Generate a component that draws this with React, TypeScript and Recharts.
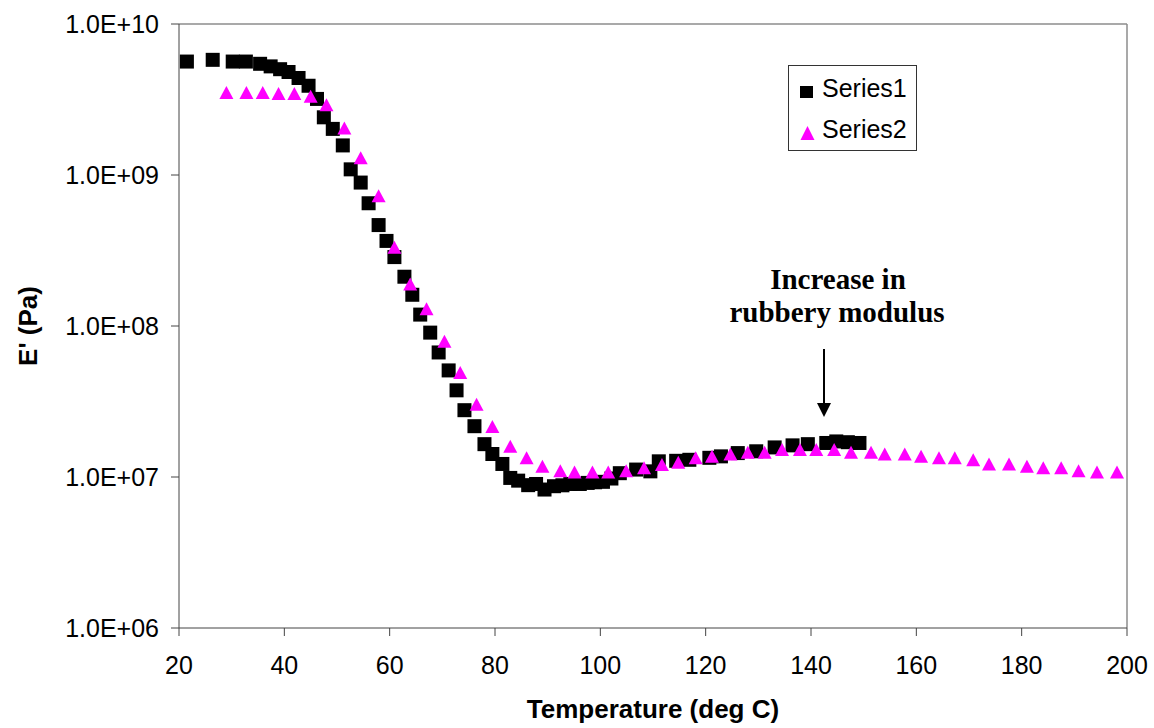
import React from 'react';
import { ScatterChart, Scatter, XAxis, YAxis, ReferenceLine, Legend } from 'recharts';

// Series1 (squares): temperature (deg C) and storage modulus E' (Pa)
const s1Temp = [
  21.5, 26.4, 30.2, 32.7, 35.4, 37.4, 39.2, 40.8, 42.7, 44.6, 46.2, 47.5, 49.2, 51.1,
  52.6, 54.5, 56.0, 57.9, 59.4, 60.9, 62.8, 64.3, 65.8, 67.7, 69.3, 71.2, 72.7, 74.2,
  76.1, 78.0, 79.5, 81.4, 82.9, 84.4, 86.3, 87.8, 89.4, 91.2, 92.8, 94.3, 96.1, 97.6,
  99.0, 100.5, 102.1, 103.7, 106.8, 109.5, 111.1, 114.4, 116.9, 120.7, 122.9, 126.1,
  129.6, 133.1, 136.5, 139.4, 142.9, 144.8, 147.0, 149.2,
];
const s1Mod = [
  5.64e9, 5.79e9, 5.64e9, 5.64e9, 5.45e9, 5.24e9, 5.02e9, 4.81e9, 4.39e9, 3.9e9, 3.19e9, 2.41e9, 2.02e9, 1.57e9,
  1.09e9, 8.91e8, 6.5e8, 4.66e8, 3.66e8, 2.86e8, 2.12e8, 1.61e8, 1.19e8, 9.04e7, 6.68e7, 5.08e7, 3.75e7, 2.77e7,
  2.17e7, 1.65e7, 1.42e7, 1.22e7, 9.86e6, 9.46e6, 8.83e6, 8.99e6, 8.26e6, 8.69e6, 8.81e6, 8.99e6, 8.99e6, 9.14e6,
  9.23e6, 9.29e6, 9.77e6, 1.06e7, 1.12e7, 1.09e7, 1.27e7, 1.28e7, 1.3e7, 1.34e7, 1.37e7, 1.44e7,
  1.48e7, 1.57e7, 1.62e7, 1.65e7, 1.68e7, 1.72e7, 1.7e7, 1.68e7,
];

// Series2 (triangles)
const s2Temp = [
  29.0, 32.8, 35.9, 38.9, 41.9, 45.0, 48.0, 51.4, 54.5, 57.9, 60.9, 63.9, 67.0, 70.4,
  73.4, 76.5, 79.5, 82.9, 86.0, 89.0, 92.4, 95.1, 98.5, 101.5, 104.9, 108.3, 111.7, 114.8,
  118.1, 121.2, 124.7, 128.0, 131.2, 134.5, 137.9, 141.0, 144.4, 147.6, 151.4, 154.0, 157.8,
  160.9, 164.3, 167.3, 170.8, 173.8, 177.6, 181.0, 184.1, 187.5, 190.8, 194.3, 198.1,
];
const s2Mod = [
  3.52e9, 3.52e9, 3.52e9, 3.46e9, 3.46e9, 3.32e9, 2.92e9, 2.05e9, 1.3e9, 7.28e8, 3.32e8, 1.9e8, 1.3e8, 7.93e7,
  4.93e7, 3.03e7, 2.16e7, 1.6e7, 1.34e7, 1.18e7, 1.1e7, 1.08e7, 1.08e7, 1.08e7, 1.1e7, 1.15e7, 1.21e7, 1.25e7,
  1.34e7, 1.37e7, 1.42e7, 1.46e7, 1.46e7, 1.52e7, 1.52e7, 1.52e7, 1.52e7, 1.46e7, 1.46e7, 1.42e7, 1.42e7,
  1.37e7, 1.34e7, 1.34e7, 1.3e7, 1.22e7, 1.22e7, 1.18e7, 1.15e7, 1.15e7, 1.1e7, 1.08e7, 1.08e7,
];

const xTicks = [20, 40, 60, 80, 100, 120, 140, 160, 180, 200];
const yTicks = [1e6, 1e7, 1e8, 1e9, 1e10];

const series1 = s1Temp.map((t, i) => ({ t, e: s1Mod[i] }));
const series2 = s2Temp.map((t, i) => ({ t, e: s2Mod[i] }));

const formatExp = (v: number) => {
  const p = Math.round(Math.log10(v));
  return `1.0E+${String(p).padStart(2, '0')}`;
};

const SquareMark = (props: any) => {
  const { cx, cy } = props;
  if (cx == null || cy == null) return null;
  return <rect x={cx - 7} y={cy - 7} width={14} height={14} fill="#000000" />;
};

const TriangleMark = (props: any) => {
  const { cx, cy } = props;
  if (cx == null || cy == null) return null;
  return <polygon points={`${cx - 7},${cy + 6.5} ${cx + 7},${cy + 6.5} ${cx},${cy - 6.5}`} fill="#FF00FF" />;
};

const LegendBox = () => (
  <div
    style={{
      width: 129,
      height: 86,
      boxSizing: 'border-box',
      border: '1px solid #333',
      background: '#fff',
      position: 'relative',
      fontSize: 25,
      color: '#000',
    }}
  >
    <svg width={129} height={86} style={{ position: 'absolute', left: 0, top: 0 }}>
      <rect x={11} y={20} width={13} height={12} fill="#000" />
      <text x={33} y={31} fontSize={25} fill="#000">Series1</text>
      <polygon points="11.5,74 25.5,74 18.5,60" fill="#FF00FF" />
      <text x={33} y={72} fontSize={25} fill="#000">Series2</text>
    </svg>
  </div>
);

const ModulusChart: React.FC = () => {
  return (
    <div
      style={{
        position: 'absolute',
        left: 0,
        top: 0,
        width: 1154,
        height: 728,
        background: '#fff',
        fontFamily: '"Liberation Sans", Arial, sans-serif',
      }}
    >
      <ScatterChart width={1154} height={728} margin={{ top: 24, right: 27, bottom: 10, left: 10 }}>
        <XAxis
          type="number"
          dataKey="t"
          domain={[20, 200]}
          ticks={xTicks}
          allowDataOverflow
          height={90}
          tickSize={8}
          tickMargin={20}
          stroke="#444"
          tick={{ fill: '#000', fontSize: 25 }}
          label={{
            value: 'Temperature (deg C)',
            position: 'insideBottom',
            offset: 0,
            style: { fontSize: 26, fontWeight: 'bold', fill: '#000' },
          }}
        />
        <YAxis
          type="number"
          dataKey="e"
          scale="log"
          domain={[1e6, 1e10]}
          ticks={yTicks}
          allowDataOverflow
          width={169}
          tickSize={8}
          tickMargin={12}
          stroke="#444"
          tickFormatter={formatExp}
          tick={{ fill: '#000', fontSize: 25 }}
          label={{
            value: "E' (Pa)",
            angle: -90,
            position: 'insideLeft',
            offset: 18,
            style: { fontSize: 26, fontWeight: 'bold', fill: '#000', textAnchor: 'middle' },
          }}
        />
        <ReferenceLine y={1e10} stroke="#8c8c8c" strokeWidth={1.5} />
        <ReferenceLine x={200} stroke="#8c8c8c" strokeWidth={1.5} />
        <Legend
          layout="horizontal"
          verticalAlign="middle"
          align="center"
          content={() => <LegendBox />}
          wrapperStyle={{ top: 65, left: 788, width: 129, height: 86 }}
        />
        <Scatter name="Series1" data={series1} shape={SquareMark} isAnimationActive={false} />
        <Scatter name="Series2" data={series2} shape={TriangleMark} isAnimationActive={false} />
      </ScatterChart>
      <svg
        width={1154}
        height={728}
        style={{ position: 'absolute', left: 0, top: 0, pointerEvents: 'none' }}
      >
        <g fontFamily='"Liberation Serif", "Times New Roman", serif' fontWeight="bold" fontSize={29} fill="#000">
          <text x={838} y={289} textAnchor="middle">Increase in</text>
          <text x={837} y={322} textAnchor="middle">rubbery modulus</text>
        </g>
        <line x1={824} y1={349} x2={824} y2={405} stroke="#000" strokeWidth={2} />
        <polygon points="817,403 831,403 824,417" fill="#000" />
      </svg>
    </div>
  );
};

export default function App() {
  return <ModulusChart />;
}
